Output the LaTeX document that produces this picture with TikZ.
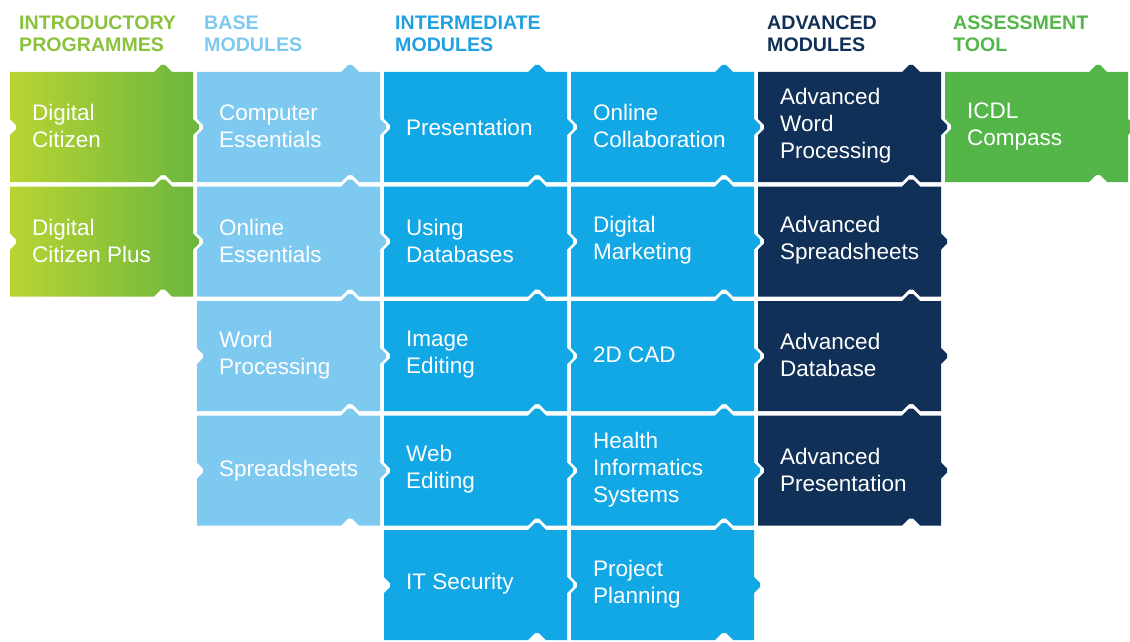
\documentclass[tikz,border=0pt]{standalone}
\usepackage{fontspec}
\setmainfont{Liberation Sans}
\usetikzlibrary{calc}

\definecolor{introL}{RGB}{184,212,50}
\definecolor{introR}{RGB}{106,182,62}
\definecolor{introH}{RGB}{138,194,62}
\definecolor{baseC}{RGB}{126,201,240}
\definecolor{interC}{RGB}{18,167,229}
\definecolor{interH}{RGB}{32,160,224}
\definecolor{advC}{RGB}{16,48,88}
\definecolor{toolC}{RGB}{84,182,73}

% one jigsaw tile: left x, top y, fill style
\newcommand{\piece}[3]{%
  \path[#3] (#1,#2) -- (#1+144,#2) -- (#1+151,#2-7) -- (#1+155,#2-7) -- (#1+162,#2) -- (#1+183,#2)
    -- (#1+183,#2+47) -- (#1+189,#2+53) -- (#1+189,#2+57) -- (#1+183,#2+63) -- (#1+183,#2+110)
    -- (#1+162,#2+110) -- (#1+155,#2+103) -- (#1+151,#2+103) -- (#1+144,#2+110) -- (#1,#2+110)
    -- (#1,#2+63) -- (#1+6,#2+57) -- (#1+6,#2+53) -- (#1,#2+47) -- cycle;}

\begin{document}
\begin{tikzpicture}[x=1pt,y=-1pt,
    introfill/.style={left color=introL,right color=introR},
    basefill/.style={fill=baseC},
    interfill/.style={fill=interC},
    advfill/.style={fill=advC},
    toolfill/.style={fill=toolC},
    tiletext/.style={anchor=west,align=left,inner sep=0pt,text=white,
      font=\fontsize{22.5}{27}\selectfont},
    head/.style={anchor=north west,align=left,inner sep=0pt,
      font=\fontsize{19.6}{21.5}\selectfont\bfseries}]
  \useasboundingbox (0,0) rectangle (1130,642);

  % headings
  \node[head,text=introH] (hIntro) at (19,16) {INTRODUCTORY\\PROGRAMMES};
  \node[head,text=baseC] (hBase) at (204,16) {BASE\\MODULES};
  \node[head,text=interH] (hInter) at (395,16) {INTERMEDIATE\\MODULES};
  \node[head,text=advC] (hAdv) at (767,16) {ADVANCED\\MODULES};
  \node[head,text=toolC] (hTool) at (953,16) {ASSESSMENT\\TOOL};

  % introductory
  \piece{10}{72}{introfill}
  \piece{10}{186.5}{introfill}
  \node[tiletext] (dcit) at (32,126) {Digital\\Citizen};
  \node[tiletext] (dcitp) at (32,240.5) {Digital\\Citizen Plus};

  % base
  \piece{197}{72}{basefill}
  \piece{197}{186.5}{basefill}
  \piece{197}{301}{basefill}
  \piece{197}{415.5}{basefill}
  \node[tiletext] (cess) at (219,126) {Computer\\Essentials};
  \node[tiletext] (oess) at (219,240.5) {Online\\Essentials};
  \node[tiletext] (wproc) at (219,355) {Word\\Processing};
  \node[tiletext] (sheets) at (219,470.5) {Spreadsheets};

  % intermediate
  \piece{384}{72}{interfill}
  \piece{384}{186.5}{interfill}
  \piece{384}{301}{interfill}
  \piece{384}{415.5}{interfill}
  \piece{384}{530}{interfill}
  \piece{571}{72}{interfill}
  \piece{571}{186.5}{interfill}
  \piece{571}{301}{interfill}
  \piece{571}{415.5}{interfill}
  \piece{571}{530}{interfill}
  \node[tiletext] (pres) at (406,127) {Presentation};
  \node[tiletext] (udb) at (406,240.5) {Using\\Databases};
  \node[tiletext] (imged) at (406,355) {Image\\Editing};
  \node[tiletext] (webed) at (406,469.5) {Web\\Editing};
  \node[tiletext] (itsec) at (406,584) {IT Security};
  \node[tiletext] (ocoll) at (593,126) {Online\\Collaboration};
  \node[tiletext] (dmark) at (593,240.5) {Digital\\Marketing};
  \node[tiletext] (cad) at (593,355) {2D CAD};
  \node[tiletext] (his) at (593,469.5) {Health\\Informatics\\Systems};
  \node[tiletext] (pplan) at (593,584) {Project\\Planning};

  % advanced
  \piece{758}{72}{advfill}
  \piece{758}{186.5}{advfill}
  \piece{758}{301}{advfill}
  \piece{758}{415.5}{advfill}
  \node[tiletext] (awp) at (780,126) {Advanced\\Word\\Processing};
  \node[tiletext] (asheets) at (780,240.5) {Advanced\\Spreadsheets};
  \node[tiletext] (adb) at (780,355) {Advanced\\Database};
  \node[tiletext] (apres) at (780,469.5) {Advanced\\Presentation};

  % assessment
  \piece{945}{72}{toolfill}
  \node[tiletext] (icdl) at (967,126) {ICDL\\Compass};
\end{tikzpicture}
\end{document}
